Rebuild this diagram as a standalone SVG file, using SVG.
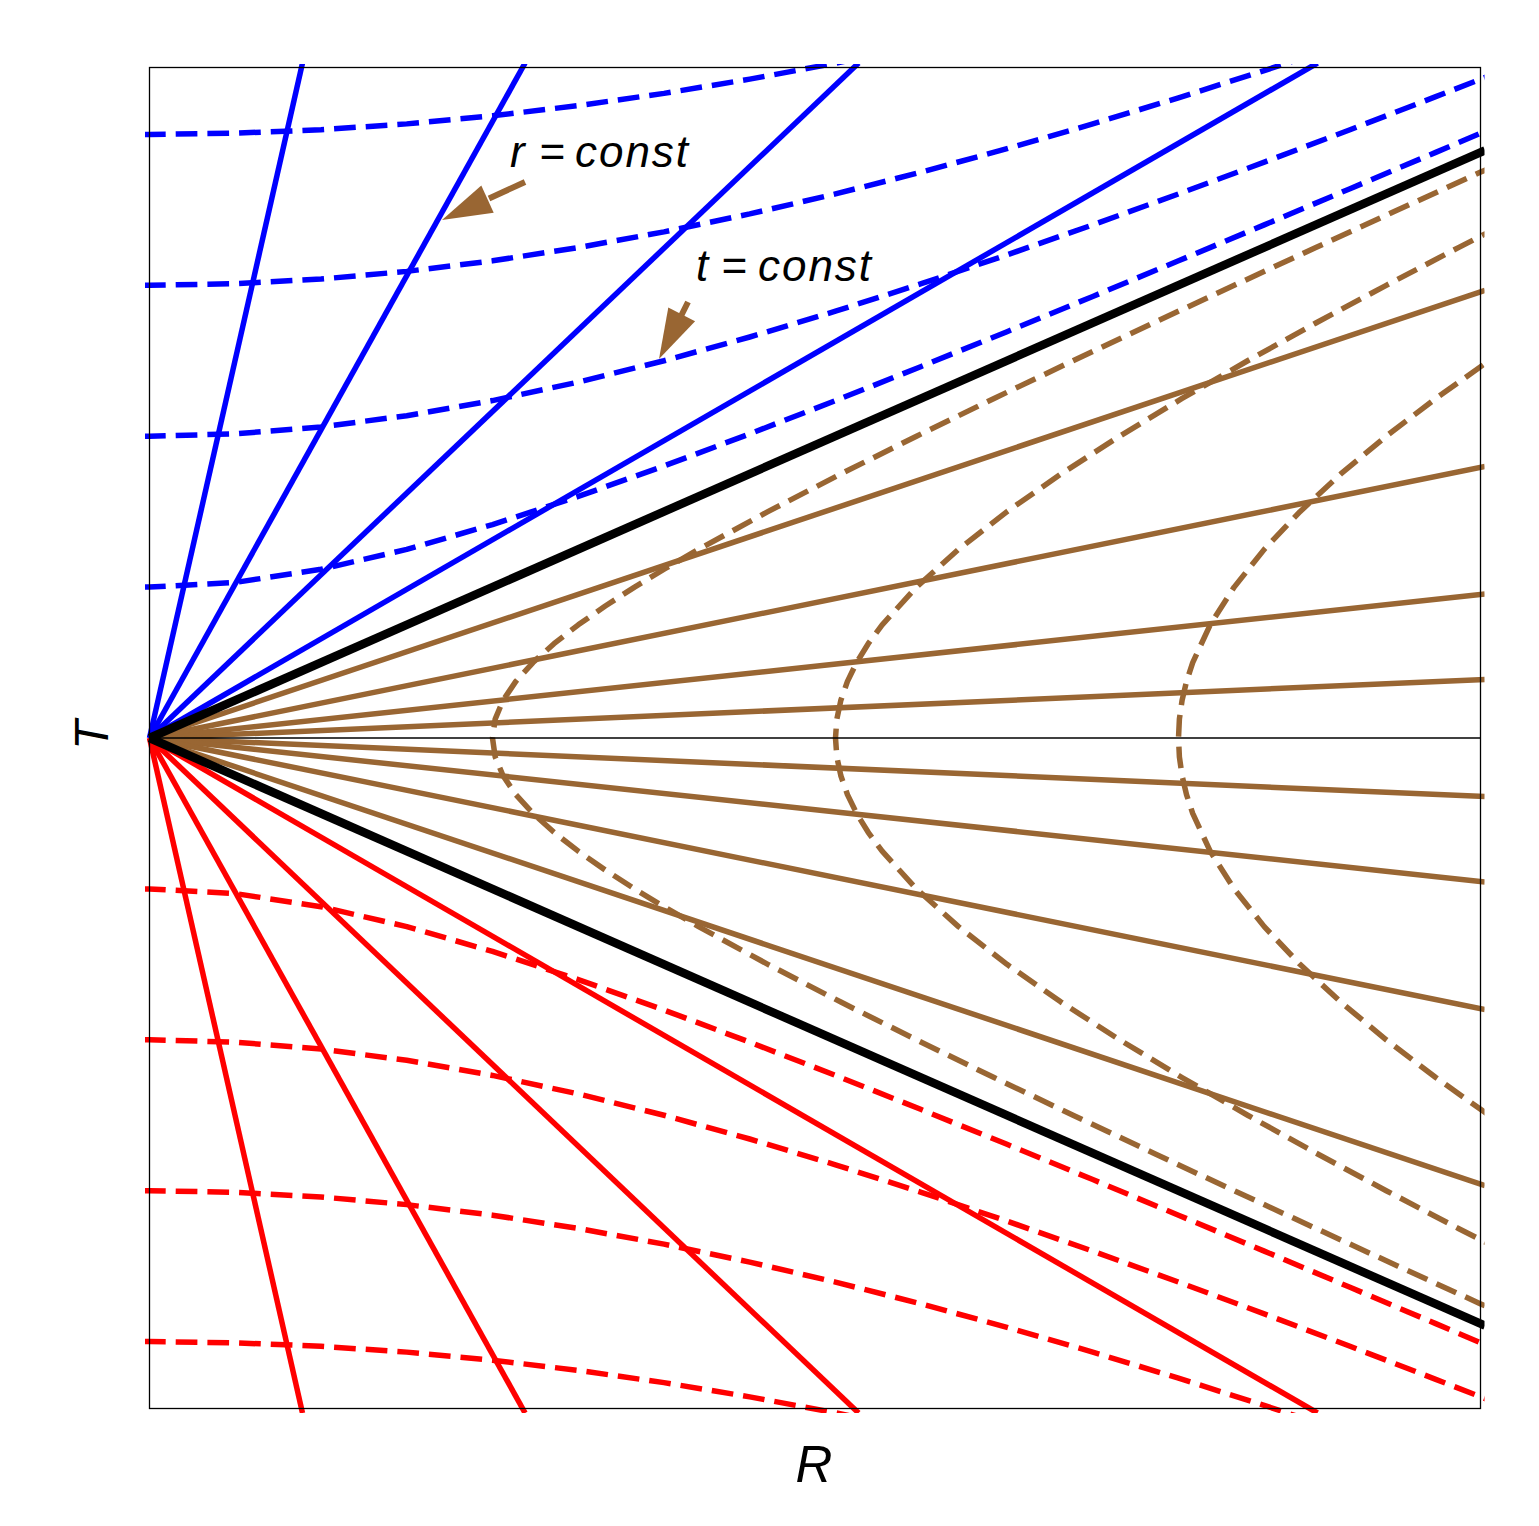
<svg xmlns="http://www.w3.org/2000/svg" width="1539" height="1526" viewBox="0 0 1539 1526">
<style>
.s{fill:none;stroke-width:5.5;stroke-linejoin:round}
.d{fill:none;stroke-width:5.5;stroke-dasharray:21.7 10;stroke-linejoin:round}
.b{stroke:#0000ff}.r{stroke:#ff0000}.br{stroke:#996633}
.k{fill:none;stroke:#000;stroke-width:8.5}
.lbl{font-family:"Liberation Sans",Arial,sans-serif;font-style:italic;fill:#000}
</style>
<defs>
<clipPath id="clip"><rect x="145" y="64" width="1339.5" height="1349"/></clipPath>
</defs>
<rect width="1539" height="1526" fill="#fff"/>
<g id="connectors" clip-path="url(#clip)">
<g id="brown-dashed">
<polyline class="d br" points="1513.85,1318.97 1480.68,1303.88 1398.05,1266.15 1315.84,1228.43 1234.17,1190.7 1153.19,1152.98 1073.06,1115.25 994.03,1077.53 916.48,1039.8 840.85,1002.08 767.86,964.35 698.57,926.63 665.78,907.76 634.57,888.9 605.27,870.04 578.25,851.18 553.98,832.31 532.97,813.45 515.82,794.59 503.06,775.73 495.17,756.86 492.5,738 495.17,719.14 503.06,700.27 515.82,681.41 532.97,662.55 553.98,643.69 578.25,624.82 605.27,605.96 634.57,587.1 665.78,568.24 698.57,549.37 767.86,511.65 840.85,473.92 916.48,436.2 994.03,398.47 1073.06,360.75 1153.19,323.02 1234.17,285.3 1315.84,247.57 1398.05,209.85 1480.68,172.12 1513.85,157.03"/>
<polyline class="d br" points="1532.17,1266.15 1458.42,1228.43 1386.22,1190.7 1315.84,1152.98 1247.65,1115.25 1182.07,1077.53 1119.64,1039.8 1061.02,1002.08 1007,964.35 958.47,926.63 916.48,888.9 882.15,851.18 868.22,832.31 856.63,813.45 847.45,794.59 840.85,775.73 836.84,756.86 835.5,738 836.84,719.14 840.85,700.27 847.45,681.41 856.63,662.55 868.22,643.69 882.15,624.82 916.48,587.1 958.47,549.37 1007,511.65 1061.02,473.92 1119.64,436.2 1182.07,398.47 1247.65,360.75 1315.84,323.02 1386.22,285.3 1458.42,247.57 1532.17,209.85"/>
<polyline class="d br" points="1488.95,1115.25 1435.75,1077.53 1386.22,1039.8 1340.77,1002.08 1299.96,964.35 1264.25,926.63 1234.17,888.9 1210.16,851.18 1192.7,813.45 1186.51,794.59 1182.07,775.73 1179.39,756.86 1178.5,738 1179.39,719.14 1182.07,700.27 1186.51,681.41 1192.7,662.55 1210.16,624.82 1234.17,587.1 1264.25,549.37 1299.96,511.65 1340.77,473.92 1386.22,436.2 1435.75,398.47 1488.95,360.75"/>
</g>
<g id="brown-solid">
<line class="s br" x1="149.5" y1="738" x2="1485" y2="679.4"/>
<line class="s br" x1="149.5" y1="738" x2="1485" y2="594.05"/>
<line class="s br" x1="149.5" y1="738" x2="1485" y2="466.4"/>
<line class="s br" x1="149.5" y1="738" x2="1485" y2="290.3"/>
<line class="s br" x1="149.5" y1="738" x2="1485" y2="796.6"/>
<line class="s br" x1="149.5" y1="738" x2="1485" y2="881.95"/>
<line class="s br" x1="149.5" y1="738" x2="1485" y2="1009.6"/>
<line class="s br" x1="149.5" y1="738" x2="1485" y2="1185.7"/>
</g>
<g id="blue-dashed">
<polyline class="d b" points="144,587.1 149.5,587.1 235.25,582.45 321,569.29 406.75,549.37 492.5,524.59 578.25,496.44 664,465.96 749.75,433.85 835.5,400.58 921.25,366.45 1007,331.69 1092.75,296.44 1178.5,260.81 1264.25,224.88 1350,188.71 1435.75,152.36 1487.2,130.45"/>
<polyline class="d b" points="144,436.2 149.5,436.2 235.25,433.85 321,426.9 406.75,415.68 492.5,400.58 578.25,382.1 664,360.75 749.75,336.98 835.5,311.19 921.25,283.73 1007,254.88 1092.75,224.88 1178.5,193.92 1264.25,162.15 1350,129.71 1435.75,96.67 1487.2,76.62"/>
<polyline class="d b" points="144,285.3 149.5,285.3 235.25,283.73 321,279.05 406.75,271.37 492.5,260.81 578.25,247.57 664,231.87 749.75,213.91 835.5,193.92 921.25,172.12 1007,148.72 1092.75,123.88 1178.5,97.79 1264.25,70.57 1350,42.38"/>
<polyline class="d b" points="144,134.4 149.5,134.4 235.25,133.22 321,129.71 406.75,123.88 492.5,115.82 578.25,105.61 664,93.36 749.75,79.16 835.5,63.16 921.25,45.46"/>
</g>
<g id="red-dashed">
<polyline class="d r" points="144,888.9 149.5,888.9 235.25,893.55 321,906.71 406.75,926.63 492.5,951.41 578.25,979.56 664,1010.04 749.75,1042.15 835.5,1075.42 921.25,1109.55 1007,1144.31 1092.75,1179.56 1178.5,1215.19 1264.25,1251.12 1350,1287.29 1435.75,1323.64 1487.2,1345.55"/>
<polyline class="d r" points="144,1039.8 149.5,1039.8 235.25,1042.15 321,1049.1 406.75,1060.32 492.5,1075.42 578.25,1093.9 664,1115.25 749.75,1139.02 835.5,1164.81 921.25,1192.27 1007,1221.12 1092.75,1251.12 1178.5,1282.08 1264.25,1313.85 1350,1346.29 1435.75,1379.33 1487.2,1399.38"/>
<polyline class="d r" points="144,1190.7 149.5,1190.7 235.25,1192.27 321,1196.95 406.75,1204.63 492.5,1215.19 578.25,1228.43 664,1244.13 749.75,1262.09 835.5,1282.08 921.25,1303.88 1007,1327.28 1092.75,1352.12 1178.5,1378.21 1264.25,1405.43 1350,1433.62"/>
<polyline class="d r" points="144,1341.6 149.5,1341.6 235.25,1342.78 321,1346.29 406.75,1352.12 492.5,1360.18 578.25,1370.39 664,1382.64 749.75,1396.84 835.5,1412.84 921.25,1430.54"/>
</g>
<g id="blue-solid">
<line class="s b" x1="149.5" y1="738" x2="302.5" y2="63"/>
<line class="s b" x1="149.5" y1="738" x2="525.1" y2="63"/>
<line class="s b" x1="149.5" y1="738" x2="858.6" y2="63"/>
<line class="s b" x1="149.5" y1="738" x2="1317.5" y2="63"/>
</g>
<g id="red-solid">
<line class="s r" x1="149.5" y1="738" x2="302.5" y2="1413"/>
<line class="s r" x1="149.5" y1="738" x2="525.1" y2="1413"/>
<line class="s r" x1="149.5" y1="738" x2="858.6" y2="1413"/>
<line class="s r" x1="149.5" y1="738" x2="1317.5" y2="1413"/>
</g>
<g id="horizons">
<line class="k" x1="149.5" y1="738" x2="1485" y2="150.3"/>
<line class="k" x1="149.5" y1="738" x2="1485" y2="1325.7"/>
</g>
<line id="axis" x1="149.5" y1="738" x2="1481" y2="738" stroke="#000" stroke-width="1.4"/>
</g>
<rect id="frame" x="149.5" y="67.5" width="1331" height="1341" fill="none" stroke="#000" stroke-width="1.3"/>
<g id="arrow-r">
<line x1="525" y1="182" x2="489" y2="198.5" stroke="#996633" stroke-width="6"/>
<polygon points="442,220 481.3,185.6 493.7,212.8" fill="#996633"/>
</g>
<g id="arrow-t">
<line x1="688" y1="302" x2="681" y2="316" stroke="#996633" stroke-width="6"/>
<polygon points="659,359 668.3,307.6 695.1,321.2" fill="#996633"/>
</g>
<g id="label-r">
<text class="lbl" font-size="44" y="167"><tspan x="510">r</tspan><tspan x="539">=</tspan><tspan x="575" textLength="113" lengthAdjust="spacing">const</tspan></text>
</g>
<g id="label-t">
<text class="lbl" font-size="44" y="281"><tspan x="696">t</tspan><tspan x="721">=</tspan><tspan x="758" textLength="113" lengthAdjust="spacing">const</tspan></text>
</g>
<text id="label-T" class="lbl" font-size="48" text-anchor="middle" transform="translate(108,735) rotate(-90)">T</text>
<text id="label-R" class="lbl" font-size="51" text-anchor="middle" x="814" y="1482">R</text>
</svg>
